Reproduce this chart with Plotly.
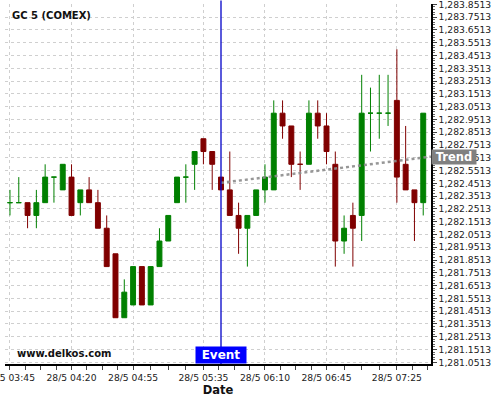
import pandas as pd
import plotly.graph_objects as go

# ---- data ----
start_time = "2024-05-28 03:45"
n_candles = 48
opens = [1282.3, 1282.3, 1282.3, 1282.2, 1282.3, 1282.5, 1282.4, 1282.5,
         1282.3, 1282.4, 1282.3, 1282.1, 1281.9, 1281.4, 1281.5, 1281.8,
         1281.5, 1281.8, 1282.0, 1282.3, 1282.5, 1282.6, 1282.8, 1282.7,
         1282.5, 1282.4, 1282.2, 1282.1, 1282.2, 1282.4, 1282.4, 1283.0,
         1282.9, 1282.6, 1282.6, 1283.0, 1282.9, 1282.6, 1282.0, 1282.2,
         1282.2, 1283.0, 1283.0, 1283.0, 1283.1, 1282.6, 1282.4, 1282.3]
highs = [1282.4, 1282.5, 1282.3, 1282.4, 1282.6, 1282.5, 1282.6, 1282.6,
         1282.4, 1282.5, 1282.4, 1282.2, 1281.9, 1281.7, 1281.8, 1281.8,
         1281.8, 1282.1, 1282.2, 1282.5, 1282.6, 1282.7, 1282.8, 1282.7,
         1282.5, 1282.7, 1282.3, 1282.2, 1282.4, 1282.6, 1283.1, 1283.1,
         1282.9, 1282.7, 1283.1, 1283.1, 1283.0, 1282.7, 1282.2, 1282.3,
         1283.3, 1283.2, 1283.3, 1283.3, 1283.5, 1282.9, 1282.4, 1283.0]
lows = [1282.2, 1282.3, 1282.1, 1282.1, 1282.3, 1282.3, 1282.4, 1282.2,
        1282.2, 1282.3, 1282.1, 1281.8, 1281.4, 1281.4, 1281.5, 1281.5,
        1281.5, 1281.8, 1282.0, 1282.3, 1282.3, 1282.4, 1282.6, 1282.4,
        1282.4, 1282.2, 1281.9, 1281.8, 1282.2, 1282.3, 1282.4, 1282.8,
        1282.5, 1282.4, 1282.6, 1282.8, 1282.6, 1281.8, 1281.9, 1281.8,
        1282.0, 1282.7, 1282.8, 1282.9, 1282.3, 1282.4, 1282.0, 1282.2]
closes = [1282.3, 1282.3, 1282.2, 1282.3, 1282.5, 1282.5, 1282.6, 1282.2,
          1282.4, 1282.3, 1282.1, 1281.8, 1281.4, 1281.6, 1281.8, 1281.5,
          1281.8, 1282.0, 1282.2, 1282.5, 1282.5, 1282.7, 1282.7, 1282.6,
          1282.4, 1282.2, 1282.1, 1282.2, 1282.4, 1282.5, 1283.0, 1282.9,
          1282.6, 1282.6, 1283.0, 1282.9, 1282.7, 1282.0, 1282.1, 1282.1,
          1283.0, 1283.0, 1283.0, 1283.0, 1282.5, 1282.4, 1282.3, 1283.0]

major_ticks = ["2024-05-28 03:45", "2024-05-28 04:20", "2024-05-28 04:55",
               "2024-05-28 05:35", "2024-05-28 06:10", "2024-05-28 06:45",
               "2024-05-28 07:25"]
x_range = ["2024-05-28 03:42:10", "2024-05-28 07:44:25"]
event_time = "2024-05-28 05:45"
trend_times = [event_time, x_range[1]]
trend_values = [1282.455, 1282.66]
y_range = [1281.038, 1283.854]
y_tick0 = 1281.0513

times = pd.date_range(start_time, periods=n_candles, freq="5min")

# minor x ticks: quarters of each major interval
mt = pd.to_datetime(major_ticks)
minor_ticks = []
for a, b in zip(mt[:-1], mt[1:]):
    for q in range(1, 4):
        minor_ticks.append(a + (b - a) * q / 4)
step = (mt[-2] - mt[-3]) / 4
t = mt[-1] + step
while t < pd.Timestamp(x_range[1]):
    minor_ticks.append(t)
    t = t + step
minor_ticks = [m.strftime("%Y-%m-%d %H:%M:%S") for m in minor_ticks]

FONT = "DejaVu Sans"
GREEN = "#008000"
RED = "#800000"

fig = go.Figure()
fig.add_trace(go.Candlestick(
    x=times, open=opens, high=highs, low=lows, close=closes,
    increasing=dict(line=dict(color=GREEN, width=1), fillcolor=GREEN),
    decreasing=dict(line=dict(color=RED, width=1), fillcolor=RED),
    whiskerwidth=0, showlegend=False, hoverinfo="skip",
))
fig.add_trace(go.Scatter(
    x=trend_times, y=trend_values, mode="lines",
    line=dict(color="rgba(140,140,140,0.9)", width=2.5, dash="dot"),
    showlegend=False, hoverinfo="skip",
))

fig.add_shape(type="line", xref="x", yref="paper", x0=event_time, x1=event_time,
              y0=0, y1=1.01, line=dict(color="#0000c8", width=1.3))

fig.add_annotation(text="<b>GC 5 (COMEX)</b>", xref="paper", yref="paper",
                   x=0.012, y=0.9694, xanchor="left", yanchor="middle",
                   showarrow=False, font=dict(family=FONT, size=10, color="#111"))
fig.add_annotation(text="<b>www.delkos.com</b>", xref="paper", yref="paper",
                   x=0.0235, y=0.0278, xanchor="left", yanchor="middle",
                   showarrow=False, font=dict(family=FONT, size=10, color="#111"))
fig.add_annotation(text="<b>Event</b>", xref="x", yref="paper",
                   x=event_time, y=0, xanchor="center", yanchor="bottom",
                   showarrow=False, bgcolor="#0000ff", borderpad=0,
                   width=50, height=16,
                   font=dict(family=FONT, size=12, color="white"))
fig.add_annotation(text="<b>Trend</b>", xref="paper", yref="y",
                   x=1, y=trend_values[1], xanchor="left", yanchor="middle",
                   showarrow=False, bgcolor="#808080", borderpad=0,
                   width=44, height=14,
                   font=dict(family=FONT, size=11.5, color="white"))

grid = dict(showgrid=True, gridcolor="#cfcfcf", gridwidth=1, griddash="3px,3px")

fig.update_layout(
    width=500, height=400,
    margin=dict(l=5, r=69, t=4, b=36, autoexpand=False),
    paper_bgcolor="white", plot_bgcolor="white",
    font=dict(family=FONT, size=9.2, color="#222"),
    boxgap=0.2,
    xaxis=dict(
        type="date", range=x_range, rangeslider=dict(visible=False),
        automargin=False, ticklabeloverflow="allow",
        tickmode="array", tickvals=major_ticks, tickformat="%-d/%-m %H:%M",
        ticks="outside", ticklen=4, tickcolor="#444",
        showline=True, linecolor="#000", linewidth=1.5,
        tickfont=dict(family=FONT, size=9.2, color="#222"),
        title=dict(text="<b>Date</b>", font=dict(family=FONT, size=11.5, color="#111"),
                   standoff=3),
        minor=dict(tickmode="array", tickvals=minor_ticks, ticks="outside",
                   ticklen=4, tickcolor="#444", showgrid=False),
        zeroline=False,
        **grid,
    ),
    yaxis=dict(
        side="right", range=y_range, tick0=y_tick0, dtick=0.1,
        automargin=False, ticklabeloverflow="allow",
        tickformat=",.4f", ticks="outside", ticklen=4, tickcolor="#444",
        showline=True, linecolor="#000", linewidth=1.5,
        tickfont=dict(family=FONT, size=9.2, color="#222"),
        minor=dict(tick0=y_tick0, dtick=0.02, ticks="outside", ticklen=2,
                   tickcolor="#666", showgrid=False),
        zeroline=False,
        **grid,
    ),
)

fig.write_html("out.html",
               config={"displayModeBar": False},
               post_script="document.body.style.margin='0px';"
                           "document.body.style.padding='0px';")
